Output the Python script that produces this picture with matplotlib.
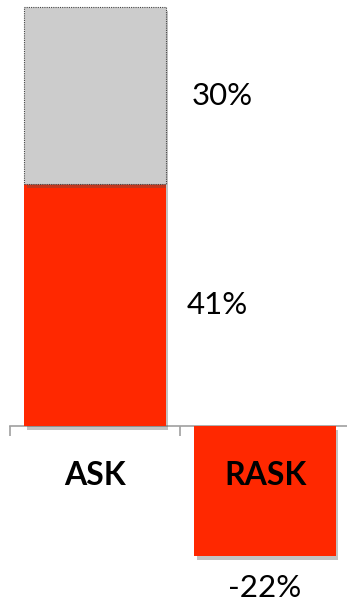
import matplotlib

matplotlib.use("Agg")
import matplotlib.pyplot as plt
import matplotlib.patheffects as pe

plt.rcParams['font.family'] = ['Lato', 'DejaVu Sans']

categories = ['ASK', 'RASK']
red_values = [41, -22]
gray_values = [30, 0]

RED = '#ff2800'
GRAY = '#cccccc'

fig = plt.figure(figsize=(3.47, 6.05), dpi=100)
ax = fig.add_axes([0, 0, 1, 1])

shadow = [pe.SimplePatchShadow(offset=(2, -3), shadow_rgbFace='#555555', alpha=0.35), pe.Normal()]
x = range(len(categories))
red_bars = ax.bar(x, red_values, width=0.83, color=RED, zorder=2)
gray_bars = ax.bar(x[:1], gray_values[:1], width=0.83, bottom=red_values[:1], color=GRAY,
                   edgecolor='#444444', linestyle=(0, (1, 1)), linewidth=0.8, zorder=2)
for b in list(red_bars) + list(gray_bars):
    b.set_path_effects(shadow)

# value labels
ax.text(0.75, red_values[0] + gray_values[0] / 2, f"{gray_values[0]}%", fontsize=22.5, ha='center', va='center')
ax.text(0.72, red_values[0] / 2, f"{red_values[0]}%", fontsize=22.5, ha='center', va='center')
ax.text(1.0, red_values[1] - 5.5, f"{red_values[1]}%", fontsize=22.5, ha='center', va='center')

# category labels just under the axis
for i, c in enumerate(categories):
    ax.text(i, -8.4, c, fontsize=23, fontweight='bold', ha='center', va='center', zorder=3)

ax.set_xlim(-0.559, 1.482)
ax.set_ylim(-30.3, 72.2)

for s in ['top', 'right', 'left']:
    ax.spines[s].set_visible(False)
ax.spines['bottom'].set_position(('data', 0))
ax.spines['bottom'].set_bounds(-0.5, 1.6)
ax.spines['bottom'].set_color('#a0a0a0')
ax.spines['bottom'].set_linewidth(1.2)
ax.spines['bottom'].set_zorder(1)
ax.set_yticks([])
ax.set_xticks([-0.5, 0.5])
ax.set_xticklabels([])
ax.tick_params(axis='x', direction='out', length=7.5, width=1.2, color='#a0a0a0')

fig.savefig('out.png', dpi=100)
